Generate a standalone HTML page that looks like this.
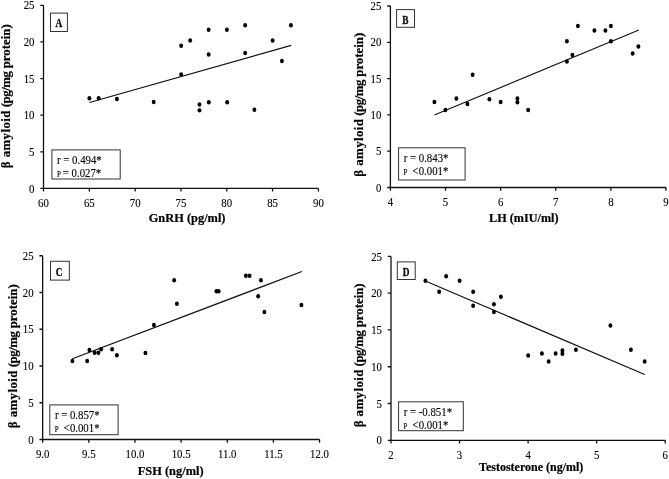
<!DOCTYPE html>
<html><head><meta charset="utf-8"><style>
html,body{margin:0;padding:0;background:#fff;}
svg{display:block;will-change:transform;}
text{font-family:"Liberation Serif",serif;fill:#000;}
.tl{font-size:12px;stroke:#000;stroke-width:0.12px;}
.tt{font-size:12.4px;font-weight:bold;stroke:#000;stroke-width:0.2px;}
.yl{font-size:12.85px;font-weight:bold;stroke:#000;stroke-width:0.2px;}
.lt{font-size:12.6px;font-weight:bold;stroke:#1a1a1a;stroke-width:0.35px;}
.st{font-size:12px;stroke:#000;stroke-width:0.12px;}
.sp{font-size:7.8px;stroke:#000;stroke-width:0.15px;}
.ax{fill:none;stroke:#111;stroke-width:1.3;}
.bx{fill:none;stroke:#333;stroke-width:1;}
.rl{fill:none;stroke:#111;stroke-width:1.2;}
.pt ellipse{fill:#000;}
</style></head><body>
<svg width="669" height="479" viewBox="0 0 669 479">
<path d="M43.50 5.30V188.40H318.40" class="ax"/>
<text transform="translate(34.50,192.50) scale(0.9,1.0)" class="tl" text-anchor="end">0</text>
<text transform="translate(34.50,155.88) scale(0.9,1.0)" class="tl" text-anchor="end">5</text>
<text transform="translate(34.50,119.26) scale(0.9,1.0)" class="tl" text-anchor="end">10</text>
<text transform="translate(34.50,82.64) scale(0.9,1.0)" class="tl" text-anchor="end">15</text>
<text transform="translate(34.50,46.02) scale(0.9,1.0)" class="tl" text-anchor="end">20</text>
<text transform="translate(34.50,9.40) scale(0.9,1.0)" class="tl" text-anchor="end">25</text>
<text transform="translate(43.50,206.90) scale(0.9,1.0)" class="tl" text-anchor="middle">60</text>
<text transform="translate(89.32,206.90) scale(0.9,1.0)" class="tl" text-anchor="middle">65</text>
<text transform="translate(135.13,206.90) scale(0.9,1.0)" class="tl" text-anchor="middle">70</text>
<text transform="translate(180.95,206.90) scale(0.9,1.0)" class="tl" text-anchor="middle">75</text>
<text transform="translate(226.77,206.90) scale(0.9,1.0)" class="tl" text-anchor="middle">80</text>
<text transform="translate(272.58,206.90) scale(0.9,1.0)" class="tl" text-anchor="middle">85</text>
<text transform="translate(318.40,206.90) scale(0.9,1.0)" class="tl" text-anchor="middle">90</text>
<path d="M40.30 188.40H43.50M40.30 151.78H43.50M40.30 115.16H43.50M40.30 78.54H43.50M40.30 41.92H43.50M40.30 5.30H43.50M43.50 188.40V191.60M89.32 188.40V191.60M135.13 188.40V191.60M180.95 188.40V191.60M226.77 188.40V191.60M272.58 188.40V191.60M318.40 188.40V191.60" class="ax"/>
<text transform="translate(148.70,221.80) scale(1.0,1.0)" class="tt" style="font-size:12.4px">GnRH (pg/ml)</text>
<text transform="translate(10.00,96.25) rotate(-90)" class="yl" text-anchor="middle"><tspan style="letter-spacing:0.43px">β amyloid</tspan><tspan style="letter-spacing:-0.45px"> (pg/mg</tspan><tspan style="letter-spacing:0.0px"> protein)</tspan></text>
<rect x="50.50" y="13.10" width="16.90" height="18.40" class="bx"/>
<text transform="translate(58.90,27.00) scale(0.74,1)" class="lt" text-anchor="middle">A</text>
<rect x="51.90" y="149.90" width="68.30" height="29.10" class="bx"/>
<text transform="translate(57.00,163.90) scale(0.9,1.0)" class="st">r = 0.494*</text>
<text transform="translate(56.90,177.00) scale(0.9,1.0)" class="sp">P</text>
<text transform="translate(62.80,177.40) scale(0.9,1.0)" class="st">= 0.027*</text>
<path d="M89.40 102.50L291.20 45.35" class="rl"/>
<g class="pt"><ellipse cx="89.40" cy="98.25" rx="1.95" ry="2.2"/><ellipse cx="98.65" cy="98.25" rx="1.95" ry="2.2"/><ellipse cx="116.90" cy="99.00" rx="1.95" ry="2.2"/><ellipse cx="153.65" cy="102.00" rx="1.95" ry="2.2"/><ellipse cx="181.15" cy="45.75" rx="1.95" ry="2.2"/><ellipse cx="190.15" cy="40.50" rx="1.95" ry="2.2"/><ellipse cx="181.15" cy="74.50" rx="1.95" ry="2.2"/><ellipse cx="208.65" cy="29.75" rx="1.95" ry="2.2"/><ellipse cx="226.90" cy="29.75" rx="1.95" ry="2.2"/><ellipse cx="245.15" cy="25.25" rx="1.95" ry="2.2"/><ellipse cx="290.90" cy="25.25" rx="1.95" ry="2.2"/><ellipse cx="272.65" cy="40.50" rx="1.95" ry="2.2"/><ellipse cx="208.65" cy="54.50" rx="1.95" ry="2.2"/><ellipse cx="245.15" cy="53.00" rx="1.95" ry="2.2"/><ellipse cx="281.90" cy="61.00" rx="1.95" ry="2.2"/><ellipse cx="199.50" cy="104.50" rx="1.95" ry="2.2"/><ellipse cx="199.50" cy="110.35" rx="1.95" ry="2.2"/><ellipse cx="208.80" cy="102.30" rx="1.95" ry="2.2"/><ellipse cx="227.20" cy="102.30" rx="1.95" ry="2.2"/><ellipse cx="254.40" cy="109.75" rx="1.95" ry="2.2"/></g>
<path d="M390.40 6.00V187.50H666.00" class="ax"/>
<text transform="translate(381.40,191.60) scale(0.9,1.0)" class="tl" text-anchor="end">0</text>
<text transform="translate(381.40,155.30) scale(0.9,1.0)" class="tl" text-anchor="end">5</text>
<text transform="translate(381.40,119.00) scale(0.9,1.0)" class="tl" text-anchor="end">10</text>
<text transform="translate(381.40,82.70) scale(0.9,1.0)" class="tl" text-anchor="end">15</text>
<text transform="translate(381.40,46.40) scale(0.9,1.0)" class="tl" text-anchor="end">20</text>
<text transform="translate(381.40,10.10) scale(0.9,1.0)" class="tl" text-anchor="end">25</text>
<text transform="translate(390.40,206.00) scale(0.9,1.0)" class="tl" text-anchor="middle">4</text>
<text transform="translate(445.52,206.00) scale(0.9,1.0)" class="tl" text-anchor="middle">5</text>
<text transform="translate(500.64,206.00) scale(0.9,1.0)" class="tl" text-anchor="middle">6</text>
<text transform="translate(555.76,206.00) scale(0.9,1.0)" class="tl" text-anchor="middle">7</text>
<text transform="translate(610.88,206.00) scale(0.9,1.0)" class="tl" text-anchor="middle">8</text>
<text transform="translate(666.00,206.00) scale(0.9,1.0)" class="tl" text-anchor="middle">9</text>
<path d="M387.20 187.50H390.40M387.20 151.20H390.40M387.20 114.90H390.40M387.20 78.60H390.40M387.20 42.30H390.40M387.20 6.00H390.40M390.40 187.50V190.70M445.52 187.50V190.70M500.64 187.50V190.70M555.76 187.50V190.70M610.88 187.50V190.70M666.00 187.50V190.70" class="ax"/>
<text transform="translate(489.10,221.80) scale(1.0,1.0)" class="tt" style="font-size:12.2px">LH (mIU/ml)</text>
<text transform="translate(362.75,104.70) rotate(-90)" class="yl" text-anchor="middle"><tspan style="letter-spacing:0.43px">β amyloid</tspan><tspan style="letter-spacing:-0.45px"> (pg/mg</tspan><tspan style="letter-spacing:0.0px"> protein)</tspan></text>
<rect x="396.60" y="9.60" width="17.90" height="17.70" class="bx"/>
<text transform="translate(405.40,23.60) scale(0.74,1)" class="lt" text-anchor="middle">B</text>
<rect x="398.60" y="147.80" width="66.50" height="32.20" class="bx"/>
<text transform="translate(403.70,161.80) scale(0.9,1.0)" class="st">r = 0.843*</text>
<text transform="translate(403.60,174.90) scale(0.9,1.0)" class="sp">P</text>
<text transform="translate(412.60,175.30) scale(0.9,1.0)" class="st"><0.001*</text>
<path d="M434.40 115.00L638.90 30.00" class="rl"/>
<g class="pt"><ellipse cx="434.40" cy="102.00" rx="1.95" ry="2.2"/><ellipse cx="445.40" cy="110.00" rx="1.95" ry="2.2"/><ellipse cx="456.40" cy="98.50" rx="1.95" ry="2.2"/><ellipse cx="467.40" cy="104.00" rx="1.95" ry="2.2"/><ellipse cx="472.65" cy="74.75" rx="1.95" ry="2.2"/><ellipse cx="489.40" cy="99.25" rx="1.95" ry="2.2"/><ellipse cx="500.65" cy="102.00" rx="1.95" ry="2.2"/><ellipse cx="517.40" cy="98.50" rx="1.95" ry="2.2"/><ellipse cx="517.40" cy="102.25" rx="1.95" ry="2.2"/><ellipse cx="528.15" cy="110.00" rx="1.95" ry="2.2"/><ellipse cx="566.90" cy="41.25" rx="1.95" ry="2.2"/><ellipse cx="566.90" cy="61.50" rx="1.95" ry="2.2"/><ellipse cx="572.40" cy="55.00" rx="1.95" ry="2.2"/><ellipse cx="577.90" cy="26.00" rx="1.95" ry="2.2"/><ellipse cx="594.40" cy="30.50" rx="1.95" ry="2.2"/><ellipse cx="605.40" cy="30.50" rx="1.95" ry="2.2"/><ellipse cx="610.90" cy="26.00" rx="1.95" ry="2.2"/><ellipse cx="610.90" cy="41.25" rx="1.95" ry="2.2"/><ellipse cx="632.65" cy="53.50" rx="1.95" ry="2.2"/><ellipse cx="638.40" cy="46.50" rx="1.95" ry="2.2"/></g>
<path d="M42.65 255.75V439.50H319.55" class="ax"/>
<text transform="translate(33.65,443.60) scale(0.9,1.0)" class="tl" text-anchor="end">0</text>
<text transform="translate(33.65,406.85) scale(0.9,1.0)" class="tl" text-anchor="end">5</text>
<text transform="translate(33.65,370.10) scale(0.9,1.0)" class="tl" text-anchor="end">10</text>
<text transform="translate(33.65,333.35) scale(0.9,1.0)" class="tl" text-anchor="end">15</text>
<text transform="translate(33.65,296.60) scale(0.9,1.0)" class="tl" text-anchor="end">20</text>
<text transform="translate(33.65,259.85) scale(0.9,1.0)" class="tl" text-anchor="end">25</text>
<text transform="translate(42.65,458.00) scale(0.9,1.0)" class="tl" text-anchor="middle">9.0</text>
<text transform="translate(88.80,458.00) scale(0.9,1.0)" class="tl" text-anchor="middle">9.5</text>
<text transform="translate(134.95,458.00) scale(0.9,1.0)" class="tl" text-anchor="middle">10.0</text>
<text transform="translate(181.10,458.00) scale(0.9,1.0)" class="tl" text-anchor="middle">10.5</text>
<text transform="translate(227.25,458.00) scale(0.9,1.0)" class="tl" text-anchor="middle">11.0</text>
<text transform="translate(273.40,458.00) scale(0.9,1.0)" class="tl" text-anchor="middle">11.5</text>
<text transform="translate(319.55,458.00) scale(0.9,1.0)" class="tl" text-anchor="middle">12.0</text>
<path d="M39.45 439.50H42.65M39.45 402.75H42.65M39.45 366.00H42.65M39.45 329.25H42.65M39.45 292.50H42.65M39.45 255.75H42.65M42.65 439.50V442.70M88.80 439.50V442.70M134.95 439.50V442.70M181.10 439.50V442.70M227.25 439.50V442.70M273.40 439.50V442.70M319.55 439.50V442.70" class="ax"/>
<text transform="translate(137.80,474.50) scale(1.0,1.0)" class="tt" style="font-size:12.4px">FSH (ng/ml)</text>
<text transform="translate(16.55,356.25) rotate(-90)" class="yl" text-anchor="middle"><tspan style="letter-spacing:0.43px">β amyloid</tspan><tspan style="letter-spacing:-0.45px"> (pg/mg</tspan><tspan style="letter-spacing:0.0px"> protein)</tspan></text>
<rect x="50.50" y="261.30" width="18.85" height="18.80" class="bx"/>
<text transform="translate(59.00,275.60) scale(0.74,1)" class="lt" text-anchor="middle">C</text>
<rect x="49.80" y="404.90" width="68.30" height="29.80" class="bx"/>
<text transform="translate(54.90,418.90) scale(0.9,1.0)" class="st">r = 0.857*</text>
<text transform="translate(54.80,432.00) scale(0.9,1.0)" class="sp">P</text>
<text transform="translate(63.80,432.40) scale(0.9,1.0)" class="st"><0.001*</text>
<path d="M72.40 358.80L301.90 271.55" class="rl"/>
<g class="pt"><ellipse cx="72.40" cy="361.00" rx="1.95" ry="2.2"/><ellipse cx="87.15" cy="361.00" rx="1.95" ry="2.2"/><ellipse cx="89.40" cy="350.00" rx="1.95" ry="2.2"/><ellipse cx="94.65" cy="352.75" rx="1.95" ry="2.2"/><ellipse cx="98.40" cy="352.75" rx="1.95" ry="2.2"/><ellipse cx="101.15" cy="349.25" rx="1.95" ry="2.2"/><ellipse cx="112.15" cy="349.25" rx="1.95" ry="2.2"/><ellipse cx="116.90" cy="355.25" rx="1.95" ry="2.2"/><ellipse cx="145.40" cy="353.00" rx="1.95" ry="2.2"/><ellipse cx="153.90" cy="325.00" rx="1.95" ry="2.2"/><ellipse cx="174.15" cy="280.25" rx="1.95" ry="2.2"/><ellipse cx="176.90" cy="303.75" rx="1.95" ry="2.2"/><ellipse cx="216.40" cy="291.25" rx="1.95" ry="2.2"/><ellipse cx="218.65" cy="291.25" rx="1.95" ry="2.2"/><ellipse cx="245.90" cy="275.75" rx="1.95" ry="2.2"/><ellipse cx="249.65" cy="275.75" rx="1.95" ry="2.2"/><ellipse cx="260.90" cy="280.25" rx="1.95" ry="2.2"/><ellipse cx="258.15" cy="296.25" rx="1.95" ry="2.2"/><ellipse cx="264.40" cy="312.00" rx="1.95" ry="2.2"/><ellipse cx="301.40" cy="305.00" rx="1.95" ry="2.2"/></g>
<path d="M391.00 256.40V440.30H665.20" class="ax"/>
<text transform="translate(382.00,444.40) scale(0.9,1.0)" class="tl" text-anchor="end">0</text>
<text transform="translate(382.00,407.62) scale(0.9,1.0)" class="tl" text-anchor="end">5</text>
<text transform="translate(382.00,370.84) scale(0.9,1.0)" class="tl" text-anchor="end">10</text>
<text transform="translate(382.00,334.06) scale(0.9,1.0)" class="tl" text-anchor="end">15</text>
<text transform="translate(382.00,297.28) scale(0.9,1.0)" class="tl" text-anchor="end">20</text>
<text transform="translate(382.00,260.50) scale(0.9,1.0)" class="tl" text-anchor="end">25</text>
<text transform="translate(391.00,458.80) scale(0.9,1.0)" class="tl" text-anchor="middle">2</text>
<text transform="translate(459.55,458.80) scale(0.9,1.0)" class="tl" text-anchor="middle">3</text>
<text transform="translate(528.10,458.80) scale(0.9,1.0)" class="tl" text-anchor="middle">4</text>
<text transform="translate(596.65,458.80) scale(0.9,1.0)" class="tl" text-anchor="middle">5</text>
<text transform="translate(665.20,458.80) scale(0.9,1.0)" class="tl" text-anchor="middle">6</text>
<path d="M387.80 440.30H391.00M387.80 403.52H391.00M387.80 366.74H391.00M387.80 329.96H391.00M387.80 293.18H391.00M387.80 256.40H391.00M391.00 440.30V443.50M459.55 440.30V443.50M528.10 440.30V443.50M596.65 440.30V443.50M665.20 440.30V443.50" class="ax"/>
<text transform="translate(479.00,471.10) scale(1.0,1.0)" class="tt" style="font-size:12.0px">Testosterone (ng/ml)</text>
<text transform="translate(362.75,355.30) rotate(-90)" class="yl" text-anchor="middle"><tspan style="letter-spacing:0.43px">β amyloid</tspan><tspan style="letter-spacing:-0.45px"> (pg/mg</tspan><tspan style="letter-spacing:0.0px"> protein)</tspan></text>
<rect x="397.30" y="261.90" width="17.90" height="17.60" class="bx"/>
<text transform="translate(406.00,275.60) scale(0.74,1)" class="lt" text-anchor="middle">D</text>
<rect x="398.60" y="401.80" width="64.70" height="28.90" class="bx"/>
<text transform="translate(403.70,415.80) scale(0.9,1.0)" class="st">r = -0.851*</text>
<text transform="translate(403.60,428.90) scale(0.9,1.0)" class="sp">P</text>
<text transform="translate(412.60,429.30) scale(0.9,1.0)" class="st"><0.001*</text>
<path d="M425.40 281.00L644.65 374.50" class="rl"/>
<g class="pt"><ellipse cx="425.40" cy="280.75" rx="1.95" ry="2.2"/><ellipse cx="439.15" cy="291.75" rx="1.95" ry="2.2"/><ellipse cx="446.15" cy="276.25" rx="1.95" ry="2.2"/><ellipse cx="459.65" cy="280.75" rx="1.95" ry="2.2"/><ellipse cx="473.15" cy="291.75" rx="1.95" ry="2.2"/><ellipse cx="473.15" cy="305.75" rx="1.95" ry="2.2"/><ellipse cx="493.90" cy="304.25" rx="1.95" ry="2.2"/><ellipse cx="493.90" cy="312.00" rx="1.95" ry="2.2"/><ellipse cx="500.90" cy="296.75" rx="1.95" ry="2.2"/><ellipse cx="528.15" cy="355.50" rx="1.95" ry="2.2"/><ellipse cx="541.90" cy="353.50" rx="1.95" ry="2.2"/><ellipse cx="548.65" cy="361.50" rx="1.95" ry="2.2"/><ellipse cx="555.65" cy="353.50" rx="1.95" ry="2.2"/><ellipse cx="562.40" cy="350.50" rx="1.95" ry="2.2"/><ellipse cx="562.40" cy="353.75" rx="1.95" ry="2.2"/><ellipse cx="575.90" cy="349.75" rx="1.95" ry="2.2"/><ellipse cx="610.40" cy="325.50" rx="1.95" ry="2.2"/><ellipse cx="630.90" cy="349.75" rx="1.95" ry="2.2"/><ellipse cx="644.65" cy="361.50" rx="1.95" ry="2.2"/></g>
</svg>
</body></html>
